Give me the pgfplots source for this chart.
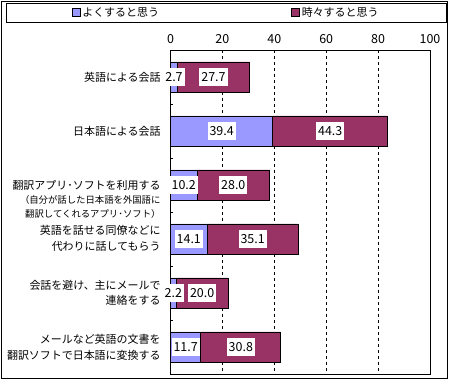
\documentclass[border=0pt]{standalone}
\usepackage{fontspec}
\setmainfont{Noto Sans CJK JP}
\usepackage{pgfplots}
\usepackage{pgfplotstable}
\pgfplotsset{compat=1.18}
\definecolor{cblue}{RGB}{153,153,255}
\definecolor{cmar}{RGB}{153,51,102}

\pgfplotstableread{
k often some
0 2.7 27.7
1 39.4 44.3
2 10.2 28.0
3 14.1 35.1
4 2.2 20.0
5 11.7 30.8
}\data

\pgfplotsset{mybase/.style={scale only axis, width=259.5bp, height=324bp,
  xmin=0, xmax=100, ymin=-0.5, ymax=5.5, y dir=reverse,
  at={(0bp,0bp)}, anchor=south west}}
\newcommand{\lbl}{\fontsize{11}{15.5}\selectfont}
\newcommand{\sml}{\fontsize{9.4}{12.5}\selectfont}

\begin{document}
\begin{tikzpicture}
\useasboundingbox (-170.5bp,-6bp) rectangle (279.5bp,374bp);
\draw[black, line width=0.8bp] (-169.5bp,-4.5bp) rectangle (277bp,373bp);
\draw[black, line width=0.8bp] (-164.5bp,352bp) rectangle (275.5bp,371bp);

\begin{axis}[mybase, xbar stacked, bar width=0.556,
  axis line style={black, line width=0.8bp},
  xtick={0,20,...,100}, xticklabel pos=right, xtick style={draw=none},
  xticklabel style={yshift=3bp},
  xmajorgrids, major x grid style={black, line width=0.6bp, dash pattern=on 3bp off 3bp},
  ytick={0.5,1.5,2.5,3.5,4.5}, yticklabels={}, ytick pos=left, tick align=inside,
  ytick style={black, line width=0.8bp}, major tick length=3bp,
  ticklabel style={font=\fontsize{12.5}{14}\selectfont},
  /pgf/number format/assume math mode=true,
  clip=false,
  legend columns=2,
  legend style={draw=none, fill=none, at={(0.2139,1.1157)}, anchor=center,
    font=\lbl, /tikz/every even column/.append style={column sep=130bp}},
  legend cell align=left,
]
\addplot[fill=cblue, draw=black, line width=0.8bp,
  legend image code/.code={\draw[fill=cblue, draw=black, line width=0.8bp] (0bp,-4bp) rectangle (8bp,4bp);}]
  table[x=often, y=k]{\data};
\addplot[fill=cmar, draw=black, line width=0.8bp,
  legend image code/.code={\draw[fill=cmar, draw=black, line width=0.8bp] (0bp,-4bp) rectangle (8bp,4bp);}]
  table[x=some, y=k]{\data};
\legend{よくすると思う, 時々すると思う}

\node[anchor=east, align=right, font=\lbl, xshift=-6.5bp] at (axis cs:0,0) {英語による会話};
\node[anchor=east, align=right, font=\lbl, xshift=-6.5bp] at (axis cs:0,1) {日本語による会話};
\node[anchor=east, align=right, font=\lbl, xshift=-6.5bp] at (axis cs:0,2.27)
  {翻訳アプリ･ソフトを利用する\\[-1.5bp] {\sml （自分が話した日本語を外国語に}\\[-1bp] {\sml 翻訳してくれるアプリ･ソフト）}};
\node[anchor=east, align=right, font=\lbl, xshift=-6.5bp] at (axis cs:0,2.99)
  {英語を話せる同僚などに\\代わりに話してもらう};
\node[anchor=east, align=right, font=\lbl, xshift=-6.5bp] at (axis cs:0,4.0)
  {会話を避け、主にメールで\\連絡をする};
\node[anchor=east, align=right, font=\lbl, xshift=-6.5bp] at (axis cs:0,5.01)
  {メールなど英語の文書を\\翻訳ソフトで日本語に変換する};
\end{axis}

\begin{axis}[mybase, hide axis, clip=false]
\addplot[draw=none, mark=none, nodes near coords, point meta=explicit,
  nodes near coords style={fill=white, inner xsep=2bp, inner ysep=4.5bp, anchor=center,
    font=\fontsize{12.5}{14}\selectfont, text=black},
  /pgf/number format/fixed, /pgf/number format/fixed zerofill,
  /pgf/number format/precision=1, /pgf/number format/assume math mode=true]
  table[x expr=\thisrow{often}/2, y=k, meta=often]{\data};
\addplot[draw=none, mark=none, nodes near coords, point meta=explicit,
  nodes near coords style={fill=white, inner xsep=2bp, inner ysep=4.5bp, anchor=center,
    font=\fontsize{12.5}{14}\selectfont, text=black},
  /pgf/number format/fixed, /pgf/number format/fixed zerofill,
  /pgf/number format/precision=1, /pgf/number format/assume math mode=true]
  table[x expr=\thisrow{often}+\thisrow{some}/2, y=k, meta=some]{\data};
\end{axis}
\end{tikzpicture}
\end{document}
